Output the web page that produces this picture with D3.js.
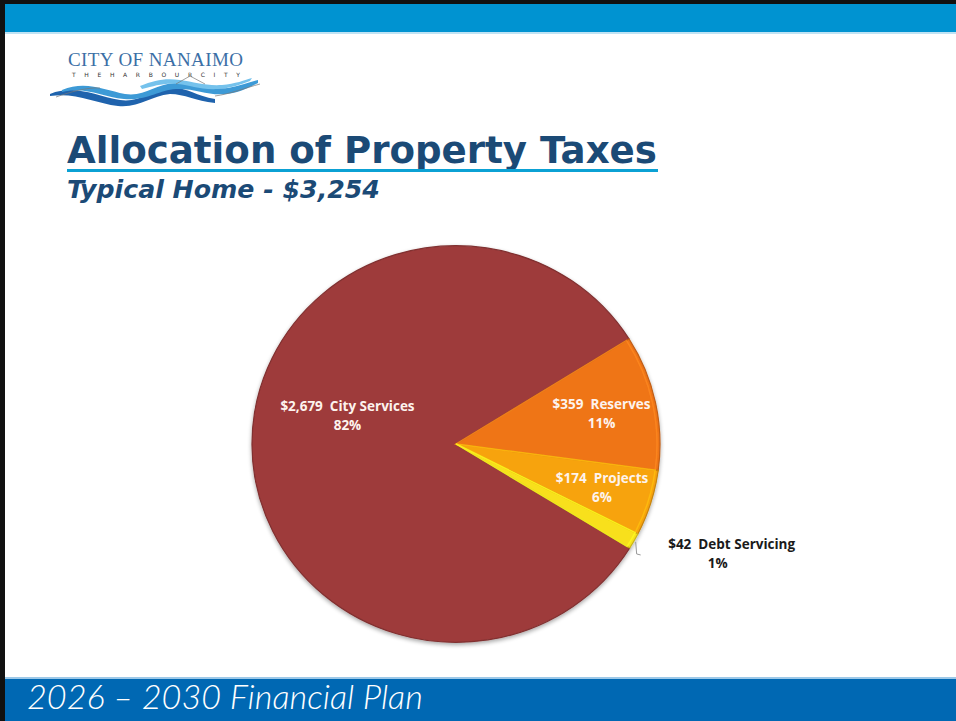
<!DOCTYPE html>
<html>
<head>
    <style>
        body { margin: 0; background: #fff; }
        svg { display: block; }
        .slice-label { font: bold 13.5px "Open Sans", sans-serif; fill: #fdf3ee; text-anchor: middle; }
        .out-label { font: bold 13.5px "Open Sans", sans-serif; fill: #1a1a1a; text-anchor: middle; }
        .title { font-family: "DejaVu Sans", sans-serif; font-weight: bold; fill: #1b4a76; }
        .subtitle { font-family: "DejaVu Sans", sans-serif; font-weight: bold; font-style: italic; fill: #1b4a76; }
        .footer { font-family: "Lato", sans-serif; font-weight: 300; font-style: italic; fill: #fff; }
    </style>
    <script src="https://d3js.org/d3.v7.min.js"></script>
</head>
<body>
    <svg width="956" height="721"></svg>
    <script>

        // chart values
        var categories = ["City Services", "Reserves", "Projects", "Debt Servicing"];
        var amounts = [2679, 359, 174, 42];
        var amountLabels = ["$2,679", "$359", "$174", "$42"];
        var percentLabels = ["82%", "11%", "6%", "1%"];
        var colors = ["#9e3b3b", "#ef7419", "#f7a30b", "#f8e01c"];

        var svg = d3.select("svg"),
            width = +svg.attr("width"),
            height = +svg.attr("height");

        var defs = svg.append("defs");
        var shadow = defs.append("filter").attr("id", "shadow")
            .attr("x", "-10%").attr("y", "-10%").attr("width", "120%").attr("height", "120%");
        shadow.append("feGaussianBlur").attr("in", "SourceAlpha").attr("stdDeviation", 2);
        shadow.append("feOffset").attr("dx", 0).attr("dy", 2).attr("result", "b");
        shadow.append("feComponentTransfer").append("feFuncA").attr("type", "linear").attr("slope", 0.35);
        var merge = shadow.append("feMerge");
        merge.append("feMergeNode");
        merge.append("feMergeNode").attr("in", "SourceGraphic");

        // slide frame
        svg.append("rect").attr("x", 0).attr("y", 0).attr("width", width).attr("height", 4).attr("fill", "#111");
        svg.append("rect").attr("x", 0).attr("y", 4).attr("width", width).attr("height", 28).attr("fill", "#0093d1");
        svg.append("rect").attr("x", 0).attr("y", 32).attr("width", width).attr("height", 2).attr("fill", "#bfe3f4");
        svg.append("rect").attr("x", 0).attr("y", 677).attr("width", width).attr("height", 2).attr("fill", "#9cc8e8");
        svg.append("rect").attr("x", 0).attr("y", 679).attr("width", width).attr("height", height - 679).attr("fill", "#0068b3");
        svg.append("rect").attr("x", 0).attr("y", 0).attr("width", 5).attr("height", height).attr("fill", "#111");

        var foot = svg.append("text").attr("class", "footer")
           .attr("x", 27).attr("y", 709)
           .style("font-size", "31px")
           .text("2026 \u2013 2030 Financial Plan");
        var fw = foot.node().getComputedTextLength();
        foot.style("font-size", (31 * 396 / fw) + "px");

        // logo
        var logo = svg.append("g");
        logo.append("text").attr("x", 68).attr("y", 66)
            .style("font", "19px 'Liberation Serif', serif").attr("fill", "#3b6fa6")
            .attr("textLength", 175).text("CITY OF NANAIMO");
        logo.append("text").attr("x", 72).attr("y", 77)
            .style("font", "6px 'DejaVu Sans', sans-serif").attr("fill", "#333")
            .attr("textLength", 168).text("T H E          H A R B O U R          C I T Y");
        logo.append("path").attr("d", "M50,94 C75,84 95,96 120,100 C140,103 150,90 170,88 C185,86 195,96 215,99 L215,103 C195,101 185,94 170,94 C150,96 140,108 118,106 C95,103 75,92 50,96 Z")
            .attr("fill", "#1f63ad");
        logo.append("path").attr("d", "M62,90 C85,80 105,90 125,94 C145,97 155,84 175,83 C195,82 210,90 228,88 C240,86 250,82 258,80 L258,83 C248,88 238,93 226,94 C208,96 195,88 176,89 C158,90 148,101 124,99 C102,97 85,86 62,92 Z")
            .attr("fill", "#3d9ad6");
        logo.append("path").attr("d", "M140,86 C155,80 165,78 180,80 C195,82 205,86 222,85 C235,84 245,80 252,78 L250,81 C240,85 230,88 218,89 C200,90 190,85 178,84 C162,83 155,86 142,89 Z")
            .attr("fill", "#75c2ec");
        logo.append("path").attr("d", "M56,97 C70,92 88,87 100,88 M176,84 L190,76 L205,84 M215,96 C230,94 245,88 260,84")
            .attr("fill", "none").attr("stroke", "#777").attr("stroke-width", 0.7);

        // titles
        var title = svg.append("text").attr("class", "title")
            .attr("x", 67).attr("y", 163).style("font-size", "40px")
            .text("Allocation of Property Taxes");
        var tw = title.node().getComputedTextLength();
        title.style("font-size", (40 * 590 / tw) + "px");
        svg.append("rect").attr("x", 67).attr("y", 169).attr("width", 591).attr("height", 3).attr("fill", "#0ba1d4");

        var sub = svg.append("text").attr("class", "subtitle")
            .attr("x", 67).attr("y", 198).style("font-size", "24px")
            .text("Typical Home - $3,254");
        var sw = sub.node().getComputedTextLength();
        sub.style("font-size", (24 * 313 / sw) + "px");

        // pie
        var cx = 456, cy = 444, radius = 204, squash = 0.972;
        var data = categories.map(function(c, i) {
            return { category: c, value: amounts[i], amount: amountLabels[i], pct: percentLabels[i], color: colors[i] };
        });
        var total = d3.sum(amounts);
        var reservesStart = 58 * Math.PI / 180;
        var firstSpan = amounts[0] / total * 2 * Math.PI;

        var pie = d3.pie().sort(null).value(function(d) { return d.value; })
            .startAngle(reservesStart - firstSpan)
            .endAngle(reservesStart - firstSpan + 2 * Math.PI);

        var arc = d3.arc().innerRadius(0).outerRadius(radius);
        var g = svg.append("g")
            .attr("transform", "translate(" + cx + "," + cy + ") scale(1," + squash + ")")
            .attr("filter", "url(#shadow)");

        var arcs = pie(data);

        g.selectAll("path.slice")
         .data(arcs)
         .enter().append("path")
         .attr("class", "slice")
         .attr("d", arc)
         .attr("fill", function(d) { return d.data.color; })
         .attr("stroke", function(d) { return d3.color(d.data.color).darker(0.6); })
         .attr("stroke-width", 1.2)
         .attr("stroke-linejoin", "round");

        // inner bevel highlight
        var bevel = d3.arc().innerRadius(0).outerRadius(radius - 3);
        g.selectAll("path.bevel")
         .data(arcs.slice(1))
         .enter().append("path")
         .attr("class", "bevel")
         .attr("d", bevel)
         .attr("fill", "none")
         .attr("stroke", function(d) { return d3.color(d.data.color).brighter(0.5); })
         .attr("stroke-width", 1.5)
         .attr("opacity", 0.7);

        // labels
        var labelRadius = [0.55, 0.73, 0.75, 0];
        var labelTurn = [0.26, 0, 0, 0];
        var lg = svg.append("g").attr("transform", "translate(" + cx + "," + cy + ")");
        arcs.forEach(function(d, i) {
            if (i === 3) return;
            var a = (d.startAngle + d.endAngle) / 2 + labelTurn[i];
            var r = radius * labelRadius[i];
            var x = Math.sin(a) * r, y = -Math.cos(a) * r * squash;
            var t = lg.append("text").attr("class", "slice-label")
                .attr("x", x).attr("y", y - 5);
            t.append("tspan").attr("x", x).attr("dy", 0).text(d.data.amount + "\u00a0 " + d.data.category);
            t.append("tspan").attr("x", x).attr("dy", 19).text(d.data.pct);
        });

        // outside label for the small slice
        var small = arcs[3];
        var ma = (small.startAngle + small.endAngle) / 2;
        var ex = Math.sin(ma) * (radius + 2), ey = -Math.cos(ma) * (radius + 2) * squash;
        lg.append("path")
          .attr("d", "M" + ex + "," + ey + " L" + (ex + 1) + "," + (ey + 12) + " L" + (ex + 5) + "," + (ey + 13))
          .attr("fill", "none").attr("stroke", "#999").attr("stroke-width", 1);
        var ot = lg.append("text").attr("class", "out-label")
            .attr("x", ex + 96).attr("y", ey + 7);
        ot.append("tspan").attr("x", ex + 96).text(small.data.amount + "\u00a0 " + small.data.category);
        ot.append("tspan").attr("x", ex + 82).attr("dy", 19).text(small.data.pct);

    </script>
</body>
</html>
